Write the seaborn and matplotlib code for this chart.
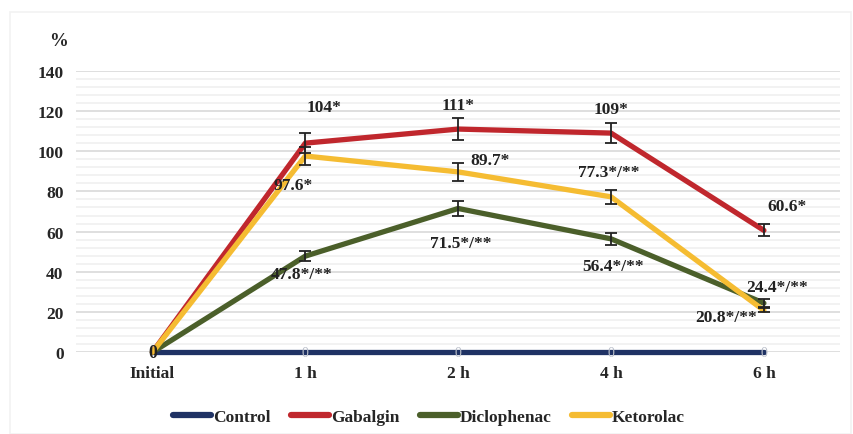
import matplotlib.pyplot as plt
import numpy as np
import pandas as pd
import seaborn as sns
from matplotlib.patches import Rectangle
from matplotlib.ticker import MultipleLocator

timepoints = ["Initial", "1 h", "2 h", "4 h", "6 h"]
groups = ["Control", "Gabalgin", "Diclophenac", "Ketorolac"]

control = [0, 0, 0, 0, 0]
gabalgin = [0, 104, 111, 109, 60.6]
diclophenac = [0, 47.8, 71.5, 56.4, 24.4]
ketorolac = [0, 97.6, 89.7, 77.3, 20.8]

gabalgin_err = [0, 5, 5.5, 5, 3]
diclophenac_err = [0, 2.5, 3.5, 3, 2]
ketorolac_err = [0, 4.5, 4.5, 3.5, 1]

gabalgin_lbl = ["", "104*", "111*", "109*", "60.6*"]
diclophenac_lbl = ["", "47.8*/**", "71.5*/**", "56.4*/**", "24.4*/**"]
ketorolac_lbl = ["", "97.6*", "89.7*", "77.3*/**", "20.8*/**"]

colors = {"Control": "#1F3264", "Gabalgin": "#C0272D",
          "Diclophenac": "#4B5F2A", "Ketorolac": "#F5BC32"}

values = {"Control": control, "Gabalgin": gabalgin,
          "Diclophenac": diclophenac, "Ketorolac": ketorolac}
rows = []
for g in groups:
    for i, t in enumerate(timepoints):
        rows.append({"time": i, "group": g, "value": values[g][i]})
df = pd.DataFrame(rows)

sns.set_theme(style="white")
plt.rcParams["font.family"] = ["Liberation Serif", "DejaVu Serif"]
plt.rcParams["font.weight"] = "bold"

fig, ax = plt.subplots(figsize=(8.54, 4.35), dpi=100)
fig.subplots_adjust(left=0.089, right=0.984, top=0.835, bottom=0.188)

fig.patches.append(Rectangle((0.012, 0.0), 0.985, 0.97, transform=fig.transFigure,
                             fill=False, edgecolor="#F2F2F2", linewidth=1.2))

sns.lineplot(data=df, x="time", y="value", hue="group", hue_order=groups,
             palette=colors, linewidth=3.8, ax=ax, legend=True)
for line in ax.get_lines():
    line.set_clip_on(False)

# error bars
for g, err in [("Gabalgin", gabalgin_err), ("Diclophenac", diclophenac_err),
               ("Ketorolac", ketorolac_err)]:
    x = np.arange(1, len(timepoints))
    ax.errorbar(x, values[g][1:], yerr=err[1:], fmt="none", ecolor="#222222",
                elinewidth=1.3, capsize=4, capthick=1.3, zorder=5)

# value labels (offsets in pixels)
fs = 12.5
gab_off = [None, (19, 36), (0, 24), (0, 24), (23, 24)]
ket_off = [None, (-12, -29), (32, 12), (-2, 25), (-38, -7)]
dic_off = [None, (-4, -18), (3, -35), (2, -27), (13, 16)]
for lbls, offs, g in [(gabalgin_lbl, gab_off, "Gabalgin"),
                      (ketorolac_lbl, ket_off, "Ketorolac"),
                      (diclophenac_lbl, dic_off, "Diclophenac")]:
    for i in range(1, len(timepoints)):
        ax.annotate(lbls[i], (i, values[g][i]), xytext=offs[i], textcoords="offset pixels",
                    ha="center", va="center", fontsize=fs, fontweight="bold", color="#222222")

for i in range(1, len(timepoints)):
    ax.annotate("0", (i, control[i]), ha="center", va="center", fontsize=10,
                fontweight="normal", color="#B8BDC8", zorder=6, annotation_clip=False)
ax.annotate("0", (0, 0), ha="center", va="center", fontsize=13, fontweight="bold",
            color="#222222", zorder=6, annotation_clip=False)

ax.set_xlim(-0.5, 4.5)
ax.set_ylim(0, 140)
ax.set_xticks(range(len(timepoints)))
ax.set_xticklabels(timepoints)
ax.yaxis.set_major_locator(MultipleLocator(20))
ax.yaxis.set_minor_locator(MultipleLocator(4))
ax.grid(axis="y", which="major", color="#D9D9D9", linewidth=1.2)
ax.grid(axis="y", which="minor", color="#F0F0F0", linewidth=1.2)
ax.set_axisbelow(True)
for s in ax.spines.values():
    s.set_visible(False)
ax.tick_params(axis="both", length=0, labelsize=12.5, pad=9)
for lab in ax.get_xticklabels() + ax.get_yticklabels():
    lab.set_fontweight("bold")
ax.set_xlabel("")
ax.set_ylabel("")
fig.text(0.068, 0.905, "%", ha="center", va="center", fontsize=13.5, fontweight="bold")

handles, labels = ax.get_legend_handles_labels()
leg = ax.legend(handles, labels, loc="center", bbox_to_anchor=(0.462, -0.23),
                ncol=4, frameon=False, fontsize=12.5, handlelength=2.2,
                handletextpad=0.12, columnspacing=1.15, bbox_transform=ax.transAxes)
for line in leg.get_lines():
    line.set_linewidth(4.5)
    line.set_solid_capstyle("round")
for t in leg.get_texts():
    t.set_fontweight("bold")

fig.savefig("out.png", dpi=100)
